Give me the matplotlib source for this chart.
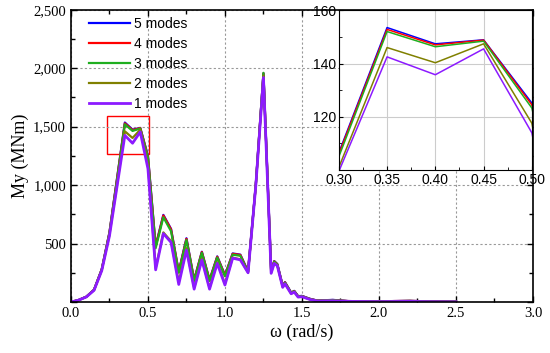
import numpy as np
import matplotlib
matplotlib.use("Agg")
import matplotlib.pyplot as plt
from matplotlib.ticker import MultipleLocator, FuncFormatter
from matplotlib.patches import Rectangle

omega = [0, 0.05, 0.1, 0.15, 0.2, 0.25, 0.3, 0.35, 0.4, 0.45, 0.5, 0.55, 0.6, 0.65,
         0.7, 0.75, 0.8, 0.85, 0.9, 0.95, 1.0, 1.05, 1.1, 1.15, 1.2, 1.25, 1.3, 1.32,
         1.34, 1.375, 1.39, 1.43, 1.45, 1.475, 1.5, 1.55, 1.6, 1.65, 1.7, 1.8, 1.9,
         2.0, 2.1, 2.2, 2.3, 2.4, 2.5]

my_5 = [0, 17, 45, 105, 280, 595, 1065, 1535, 1474, 1489, 1252, 480, 745, 625,
        260, 545, 190, 430, 190, 390, 230, 415, 405, 262, 1000, 1955, 270, 350,
        325, 140, 170, 80, 95, 50, 52, 28, 12, 15, 18, 8, 6, 5, 8, 10, 6, 4, 2]
my_4 = [0, 17, 45, 105, 280, 593, 1060, 1528, 1470, 1488, 1245, 475, 740, 620,
        257, 540, 187, 427, 187, 387, 227, 412, 402, 260, 998, 1955, 268, 348,
        323, 138, 168, 79, 94, 49, 51, 27, 12, 14, 17, 8, 6, 5, 8, 10, 6, 4, 2]
my_3 = [0, 17, 45, 104, 278, 590, 1050, 1520, 1463, 1484, 1233, 460, 725, 605,
        250, 530, 180, 420, 180, 380, 220, 405, 395, 258, 995, 1960, 265, 345,
        320, 135, 165, 78, 92, 48, 50, 26, 11, 14, 16, 7, 5, 4, 7, 9, 5, 3, 2]
my_2 = [0, 16, 44, 102, 272, 575, 1010, 1460, 1403, 1474, 1176, 290, 595, 520,
        170, 460, 120, 370, 120, 340, 155, 380, 365, 252, 990, 1935, 250, 335,
        313, 128, 158, 72, 87, 44, 46, 23, 9, 11, 11, 5, 4, 3, 5, 6, 3, 2, 1]
my_1 = [0, 16, 43, 100, 268, 565, 995, 1425, 1358, 1455, 1140, 275, 585, 510,
        150, 445, 110, 360, 110, 330, 145, 375, 360, 250, 988, 1920, 245, 330,
        310, 125, 155, 70, 85, 42, 45, 22, 8, 10, 10, 5, 4, 3, 4, 5, 3, 2, 1]

series = [("5 modes", my_5, "#0000ff"),
          ("4 modes", my_4, "#ff0000"),
          ("3 modes", my_3, "#1fae1f"),
          ("2 modes", my_2, "#808000"),
          ("1 modes", my_1, "#8c1aff")]

zoom_box = (0.232, 1265, 0.508, 1588)

serif = "Liberation Serif"
sans = "Liberation Sans"

fig = plt.figure(figsize=(5.5, 3.53), dpi=100)
ax = fig.add_axes([0.129, 0.1445, 0.840, 0.828])

for lab, vals, col in series:
    ax.plot(omega, vals, color=col, lw=1.6 if lab != "1 modes" else 2.0, label=lab)

ax.set_xlim(0, 3.0)
ax.set_ylim(0, 2500)
ax.xaxis.set_major_locator(MultipleLocator(0.5))
ax.xaxis.set_minor_locator(MultipleLocator(0.25))
ax.yaxis.set_major_locator(MultipleLocator(500))
ax.yaxis.set_minor_locator(MultipleLocator(250))
ax.xaxis.set_major_formatter(FuncFormatter(lambda v, p: f"{v:.1f}"))
ax.yaxis.set_major_formatter(FuncFormatter(lambda v, p: "" if v == 0 else f"{int(v):,}"))
ax.tick_params(which="both", direction="in", top=True, right=True, width=1.0)
ax.tick_params(which="major", length=4)
ax.tick_params(which="minor", length=3)
for t in ax.get_xticklabels() + ax.get_yticklabels():
    t.set_fontfamily(serif)
    t.set_fontsize(10.5)
ax.grid(True, which="major", color="#999999", linestyle=(0, (2, 2)), lw=0.8)
for s in ax.spines.values():
    s.set_linewidth(1.2)
ax.set_xlabel("ω (rad/s)", fontfamily=serif, fontsize=13, labelpad=3)
ax.set_ylabel("My (MNm)", fontfamily=serif, fontsize=13, labelpad=3)

ax.add_patch(Rectangle((zoom_box[0], zoom_box[1]), zoom_box[2] - zoom_box[0],
                       zoom_box[3] - zoom_box[1], fill=False, edgecolor="red", lw=1.0))

leg = ax.legend(loc="upper left", bbox_to_anchor=(0.022, 1.005), frameon=False,
                prop={"family": sans, "size": 10}, handlelength=2.9,
                labelspacing=0.44, handletextpad=0.3, borderaxespad=0.2)

# inset
axi = fig.add_axes([0.616, 0.518, 0.351, 0.453])
for lab, vals, col in series:
    axi.plot(omega, np.array(vals) / 10.0, color=col, lw=1.1)
axi.set_xlim(0.30, 0.50)
axi.set_ylim(100, 160)
axi.set_xticks([0.30, 0.35, 0.40, 0.45, 0.50])
axi.set_yticks([120, 140, 160])
axi.xaxis.set_minor_locator(MultipleLocator(0.025))
axi.yaxis.set_minor_locator(MultipleLocator(10))
axi.xaxis.set_major_formatter(FuncFormatter(lambda v, p: f"{v:.2f}"))
axi.tick_params(which="both", direction="in", labelsize=10, pad=2)
axi.tick_params(which="major", length=3)
axi.tick_params(which="minor", length=2)
for t in axi.get_xticklabels() + axi.get_yticklabels():
    t.set_fontfamily(sans)
axi.grid(True, which="major", color="#cccccc", lw=0.8)

fig.savefig("out.png", dpi=100)
